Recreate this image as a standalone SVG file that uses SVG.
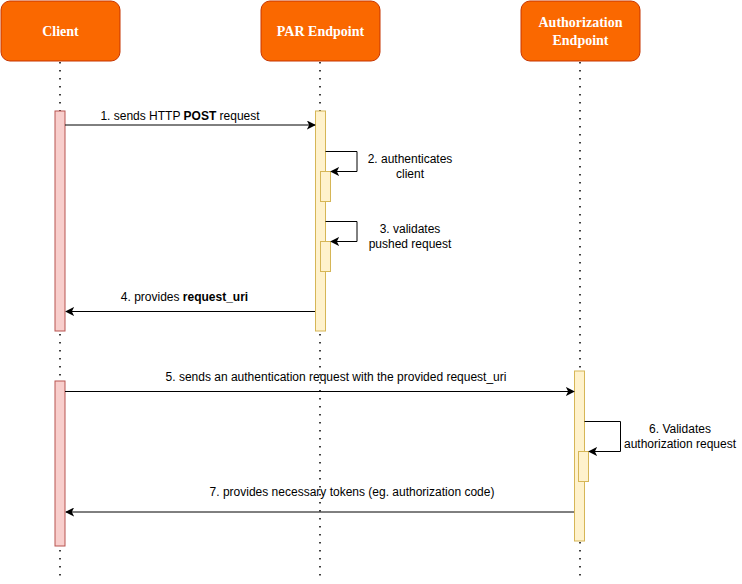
<svg xmlns="http://www.w3.org/2000/svg" width="742" height="584" viewBox="0 0 742 584">
<style>
.hdr{fill:#FA6800;stroke:#C73500;stroke-width:1}
.ht{font-family:"Liberation Serif",serif;font-weight:bold;font-size:14px;fill:#fff;text-anchor:middle}
.life{stroke:#000;stroke-width:1.5;stroke-dasharray:1.5 6.5;fill:none}
.actr{fill:#F8CECC;stroke:#B85450}
.acty{fill:#FFF2CC;stroke:#D6B656}
.msg{stroke:#000;stroke-width:1;fill:none}
.lbl{font-family:"Liberation Sans",Arial,sans-serif;font-size:12px;fill:#000;text-anchor:middle}
</style>
<defs>
<marker id="arr" viewBox="0 0 10 10" refX="9" refY="5" markerWidth="9" markerHeight="9" markerUnits="userSpaceOnUse" orient="auto">
<path d="M0,0 L10,5 L0,10 L2.5,5 Z" fill="#000"/>
</marker>
</defs>
<rect width="742" height="584" fill="#fff"/>
<g id="lifelines">
<line class="life" x1="60" y1="62" x2="60" y2="580"/>
<line class="life" x1="320" y1="62" x2="320" y2="578"/>
<line class="life" x1="580" y1="62" x2="580" y2="578"/>
</g>
<g id="client">
<rect class="hdr" x="1" y="1" width="119" height="60" rx="9"/>
<text class="ht" x="60.5" y="36">Client</text>
</g>
<g id="par">
<rect class="hdr" x="261" y="1" width="119" height="60" rx="9"/>
<text class="ht" x="320.5" y="36">PAR Endpoint</text>
</g>
<g id="auth">
<rect class="hdr" x="521" y="1" width="119" height="60" rx="9"/>
<text class="ht" x="580.5" y="27">Authorization</text>
<text class="ht" x="580.5" y="45">Endpoint</text>
</g>
<g id="activations">
<rect class="actr" x="55" y="111" width="10" height="220"/>
<rect class="actr" x="55" y="381" width="10" height="165"/>
<rect class="acty" x="315.5" y="111" width="10" height="220"/>
<rect class="acty" x="320.5" y="171.5" width="10" height="30"/>
<rect class="acty" x="320.5" y="241.5" width="10" height="30"/>
<rect class="acty" x="574.5" y="371" width="10" height="170"/>
<rect class="acty" x="578.5" y="451.5" width="10" height="30"/>
</g>
<g id="connectors">
<line class="msg" x1="65" y1="125" x2="315" y2="125" marker-end="url(#arr)"/>
<polyline class="msg" points="325.5,151.5 357,151.5 357,171.5 331,171.5" marker-end="url(#arr)"/>
<polyline class="msg" points="325.5,221.5 357,221.5 357,241.5 331,241.5" marker-end="url(#arr)"/>
<line class="msg" x1="315" y1="311.5" x2="66" y2="311.5" marker-end="url(#arr)"/>
<line class="msg" x1="65" y1="391.5" x2="574" y2="391.5" marker-end="url(#arr)"/>
<polyline class="msg" points="584.5,421.5 620.5,421.5 620.5,451.5 589,451.5" marker-end="url(#arr)"/>
<line class="msg" x1="574" y1="512" x2="66" y2="512" marker-end="url(#arr)"/>
</g>
<g id="labels">
<text class="lbl" x="180" y="120">1. sends HTTP <tspan font-weight="bold">POST</tspan> request</text>
<text class="lbl" x="410" y="163">2. authenticates</text>
<text class="lbl" x="410" y="178">client</text>
<text class="lbl" x="410" y="233">3. validates</text>
<text class="lbl" x="410" y="248">pushed request</text>
<text class="lbl" x="184.5" y="301">4. provides <tspan font-weight="bold">request_uri</tspan></text>
<text class="lbl" x="336" y="381">5. sends an authentication request with the provided request_uri</text>
<text class="lbl" x="680" y="433">6. Validates</text>
<text class="lbl" x="680" y="448">authorization request</text>
<text class="lbl" x="352" y="496">7. provides necessary tokens (eg. authorization code)</text>
</g>
</svg>
